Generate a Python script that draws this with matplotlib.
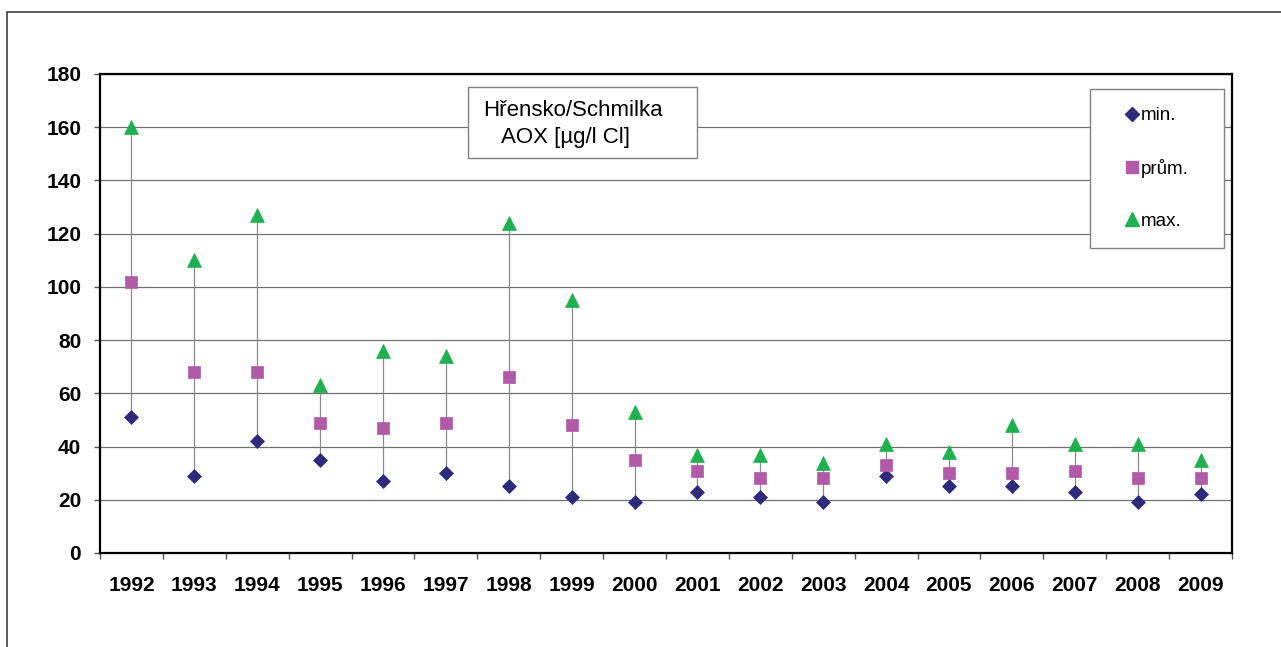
import matplotlib
matplotlib.use("Agg")
import matplotlib.pyplot as plt
from matplotlib.patches import Rectangle
from matplotlib.lines import Line2D
import numpy as np

plt.rcParams['font.family'] = ['Liberation Sans', 'DejaVu Sans']

years = ['1992', '1993', '1994', '1995', '1996', '1997', '1998', '1999', '2000',
         '2001', '2002', '2003', '2004', '2005', '2006', '2007', '2008', '2009']
aox_min = [51, 29, 42, 35, 27, 30, 25, 21, 19, 23, 21, 19, 29, 25, 25, 23, 19, 22]
aox_avg = [102, 68, 68, 49, 47, 49, 66, 48, 35, 31, 28, 28, 33, 30, 30, 31, 28, 28]
aox_max = [160, 110, 127, 63, 76, 74, 124, 95, 53, 37, 37, 34, 41, 38, 48, 41, 41, 35]
series_labels = ['min.', 'prům.', 'max.']
title_lines = ['Hřensko/Schmilka', 'AOX [µg/l Cl]']

c_min = '#2E2C7A'
c_avg = '#B15AA8'
c_max = '#1FB14F'

W, H = 1281, 647
fig = plt.figure(figsize=(W / 100, H / 100), dpi=100)
fig.patch.set_facecolor('white')

def fx(px):
    return px / W

def fy(py):
    return 1 - py / H

ax = fig.add_axes([fx(100), fy(553), fx(1232) - fx(100), fy(74) - fy(553)])
x = np.arange(len(years))

ax.set_xlim(-0.5, len(years) - 0.5)
ax.set_ylim(0, 180)
ax.set_yticks(np.arange(0, 181, 20))
ax.yaxis.grid(True, color='#707070', lw=0.9, zorder=0)
ax.set_axisbelow(True)

ax.vlines(x, aox_min, aox_max, color='#8a8a8a', lw=0.9, zorder=2)
ax.plot(x, aox_min, ls='none', marker='D', ms=6.8, color=c_min, mec=c_min, mew=0.5, zorder=3)
ax.plot(x, aox_avg, ls='none', marker='s', ms=8.3, color=c_avg, mec=c_avg, mew=0.5, zorder=3)
ax.plot(x, aox_max, ls='none', marker='^', ms=10, color=c_max, mec=c_max, mew=0.5, zorder=3)

ax.set_xticks(x)
ax.set_xticklabels(years, fontsize=15, fontweight='bold')
ax.set_xticks(np.arange(-0.5, len(years), 1.0), minor=True)
ax.tick_params(axis='x', which='major', length=0, pad=16.5)
ax.tick_params(axis='x', which='minor', direction='out', length=4.5, width=1, color='#555555')
ax.tick_params(axis='y', direction='out', length=4.5, width=1, color='#555555', pad=9,
               labelsize=15)
for lab in ax.get_yticklabels():
    lab.set_fontweight('bold')
for s in ax.spines.values():
    s.set_linewidth(1.6)
    s.set_color('black')

# outer frame
fig.patches.append(Rectangle((fx(7), fy(H + 20)), fx(W + 20) - fx(7), fy(12) - fy(H + 20),
                             transform=fig.transFigure, fill=False, ec='#404040', lw=1.2,
                             zorder=1))

# title box
fig.patches.append(Rectangle((fx(468), fy(158)), fx(697) - fx(468), fy(87) - fy(158),
                             transform=fig.transFigure, fc='white', ec='#808080', lw=1.0,
                             zorder=1))
fig.text(fx(483), fy(116), title_lines[0], fontsize=16, ha='left', va='baseline')
fig.text(fx(501), fy(143), title_lines[1], fontsize=16, ha='left', va='baseline')

# legend box
fig.patches.append(Rectangle((fx(1090), fy(248)), fx(1224) - fx(1090), fy(89) - fy(248),
                             transform=fig.transFigure, fc='white', ec='#808080', lw=1.0,
                             zorder=1))
handles = [
    Line2D([], [], ls='none', marker='D', ms=6.8, color=c_min, mec=c_min),
    Line2D([], [], ls='none', marker='s', ms=8.3, color=c_avg, mec=c_avg),
    Line2D([], [], ls='none', marker='^', ms=10, color=c_max, mec=c_max),
]
leg = fig.legend(handles, series_labels, loc='upper left',
                 bbox_to_anchor=(fx(1124), fy(107)), frameon=False, fontsize=13.5,
                 borderpad=0, borderaxespad=0, handlelength=0.8, handletextpad=0.12,
                 labelspacing=1.85)
leg.set_zorder(5)

fig.savefig('out.png', dpi=100)
